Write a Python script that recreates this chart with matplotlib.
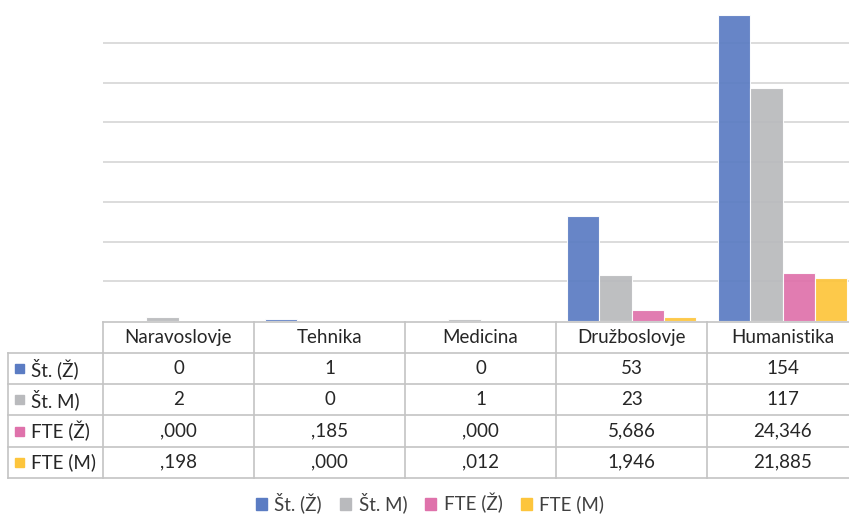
import matplotlib
matplotlib.use("Agg")
import matplotlib.pyplot as plt
from matplotlib.lines import Line2D
from matplotlib.patches import Patch, Rectangle
from matplotlib.transforms import blended_transform_factory

# data
categories = ["Naravoslovje", "Tehnika", "Medicina", "Družboslovje", "Humanistika"]
series_names = ["Št. (Ž)", "Št. M)", "FTE (Ž)", "FTE (M)"]
st_z = [0, 1, 0, 53, 154]
st_m = [2, 0, 1, 23, 117]
fte_z = [0.000, 0.185, 0.000, 5.686, 24.346]
fte_m = [0.198, 0.000, 0.012, 1.946, 21.885]
series = [st_z, st_m, fte_z, fte_m]
colors = ["#5b7cc3", "#b9babd", "#df72ab", "#fdc53c"]
grid_ticks = [20, 40, 60, 80, 100, 120, 140]

W, H = 849, 515
FONT = "Lato"
FS = 13.5
LINE_C = "#c4c4c4"


def fy(px):
    # pixel row (from top) -> figure fraction
    return 1 - px / H


def fmt(v, is_fte):
    if not is_fte:
        return str(int(v))
    s = f"{v:.3f}".replace(".", ",")
    if s.startswith("0"):
        s = s[1:]
    return s


fig = plt.figure(figsize=(W / 100, H / 100), dpi=100)
ax = fig.add_axes([103 / W, fy(321), 755 / W, fy(3) - fy(321)])

n = len(series)
width = 0.212
for k, vals in enumerate(series):
    xs = [i + (k - (n - 1) / 2) * width for i in range(len(categories))]
    ax.bar(xs, vals, width=width, color=colors[k], edgecolor="white",
           linewidth=0.8, alpha=0.93, zorder=2)

ax.set_xlim(-0.5, len(categories) - 0.5)
ax.set_ylim(0, 160)
ax.set_yticks(grid_ticks)
ax.yaxis.grid(True, color="#d5d5d5", linewidth=1.2, zorder=0)
ax.set_axisbelow(True)
ax.set_xticks([])
ax.tick_params(left=False, labelleft=False)
for sp in ax.spines.values():
    sp.set_visible(False)

# data table under the plot
tr = blended_transform_factory(ax.transData, fig.transFigure)
row_edges = [321.5, 352.8, 384, 415.3, 446.7, 478]
x_left = -0.5 - 95 / 151
x_right = len(categories) - 0.5


def line(x0, x1, y0, y1):
    fig.add_artist(Line2D([x0, x1], [y0, y1], transform=tr, color=LINE_C,
                          linewidth=1.2, clip_on=False))


line(-0.5, x_right, fy(row_edges[0]), fy(row_edges[0]))
for e in row_edges[1:]:
    line(x_left, x_right, fy(e), fy(e))
for i in range(len(categories) + 1):
    line(i - 0.5, i - 0.5, fy(row_edges[0]), fy(row_edges[-1]))
line(x_left, x_left, fy(row_edges[1]), fy(row_edges[-1]))

mid = lambda a, b: fy((a + b) / 2)
for i, cat in enumerate(categories):
    fig.text(i, mid(row_edges[0], row_edges[1]), cat, transform=tr,
             ha="center", va="center", fontsize=FS, family=FONT, color="#262626")

for r, (name, vals) in enumerate(zip(series_names, series)):
    y = mid(row_edges[r + 1], row_edges[r + 2])
    fig.add_artist(Rectangle((15 / W, y - 4.5 / H), 8.5 / W, 9 / H,
                             transform=fig.transFigure, color=colors[r]))
    fig.text(31 / W, y, name, ha="left", va="center", fontsize=FS,
             family=FONT, color="#262626")
    for i, v in enumerate(vals):
        fig.text(i, y, fmt(v, r >= 2), transform=tr, ha="center", va="center",
                 fontsize=FS, family=FONT, color="#262626")

handles = [Patch(color=c) for c in colors]
leg = fig.legend(handles, series_names, loc="center", ncol=4,
                 bbox_to_anchor=(430 / W, fy(503)), frameon=False,
                 prop={"family": FONT, "size": FS}, handlelength=0.6,
                 handleheight=0.6, handletextpad=0.4, columnspacing=0.95,
                 labelcolor="#404040")

fig.savefig("out.png", dpi=100)
